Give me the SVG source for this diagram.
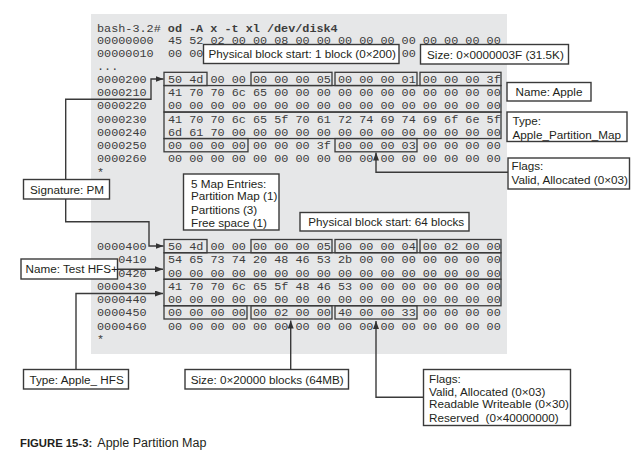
<svg xmlns="http://www.w3.org/2000/svg" width="641" height="465" viewBox="0 0 641 465">
<style>
.m{font-family:"Liberation Mono","DejaVu Sans Mono",monospace;font-size:11.8px;fill:#3d3d3d}
.b{font-weight:bold}
.hx{fill:none;stroke:#3a3a3a;stroke-width:1.3}
.lb{fill:#fff;stroke:#3a3a3a;stroke-width:1.4}
.t{font-family:"Liberation Sans",Arial,sans-serif;font-size:11.7px;fill:#231f20}
.c{fill:none;stroke:#3a3a3a;stroke-width:1.4}
</style>
<defs>
<marker id="ah" viewBox="0 0 8 6" refX="8" refY="3" markerWidth="8" markerHeight="6" markerUnits="userSpaceOnUse" orient="auto"><path d="M0,0 L8,3 L0,6 z" fill="#333"/></marker>
</defs>
<rect x="91" y="14" width="416" height="340" fill="#e6e7e8"/>
<g id="dump">
<text class="m" x="97" y="31.5">bash-3.2# <tspan class="b">od -A x -t xl /dev/disk4</tspan></text>
<text class="m" x="97" y="44">00000000</text><text class="m" x="168" y="44">45 52 02 00 00 08 00 00 00 00 00 00 00 00 00 00</text>
<text class="m" x="97" y="57">00000010</text><text class="m" x="168" y="57">00 00</text><text class="m" x="401.75" y="57">00</text>
<text class="m" x="97" y="69.6">...</text>
<text class="m" x="97" y="82.8">0000200</text><text class="m" x="168" y="82.8">50 4d 00 00 00 00 00 05 00 00 00 01 00 00 00 3f</text>
<text class="m" x="97" y="96.05">0000210</text><text class="m" x="168" y="96.05">41 70 70 6c 65 00 00 00 00 00 00 00 00 00 00 00</text>
<text class="m" x="97" y="109.3">0000220</text><text class="m" x="168" y="109.3">00 00 00 00 00 00 00 00 00 00 00 00 00 00 00 00</text>
<text class="m" x="97" y="122.55">0000230</text><text class="m" x="168" y="122.55">41 70 70 6c 65 5f 70 61 72 74 69 74 69 6f 6e 5f</text>
<text class="m" x="97" y="135.8">0000240</text><text class="m" x="168" y="135.8">6d 61 70 00 00 00 00 00 00 00 00 00 00 00 00 00</text>
<text class="m" x="97" y="149.05">0000250</text><text class="m" x="168" y="149.05">00 00 00 00 00 00 00 3f 00 00 00 03 00 00 00 00</text>
<text class="m" x="97" y="162.3">0000260</text><text class="m" x="168" y="162.3">00 00 00 00 00 00 00 00 00 00 00 00 00 00 00 00</text>
<text class="m" x="97" y="175.5">*</text>
<text class="m" x="97" y="250">0000400</text><text class="m" x="168" y="250">50 4d 00 00 00 00 00 05 00 00 00 04 00 02 00 00</text>
<text class="m" x="118.24" y="263.25">0410</text><text class="m" x="168" y="263.25">54 65 73 74 20 48 46 53 2b 00 00 00 00 00 00 00</text>
<text class="m" x="118.24" y="276.5">0420</text><text class="m" x="168" y="276.5">00 00 00 00 00 00 00 00 00 00 00 00 00 00 00 00</text>
<text class="m" x="97" y="289.75">0000430</text><text class="m" x="168" y="289.75">41 70 70 6c 65 5f 48 46 53 00 00 00 00 00 00 00</text>
<text class="m" x="97" y="303">0000440</text><text class="m" x="168" y="303">00 00 00 00 00 00 00 00 00 00 00 00 00 00 00 00</text>
<text class="m" x="97" y="316.25">0000450</text><text class="m" x="168" y="316.25">00 00 00 00 00 02 00 00 40 00 00 33 00 00 00 00</text>
<text class="m" x="97" y="329.5">0000460</text><text class="m" x="168" y="329.5">00 00 00 00 00 00 00 00 00 00 00 00 00 00 00 00</text>
<text class="m" x="97" y="342.75">*</text>
</g>
<g id="fields">
<rect class="hx" x="164" y="72.3" width="43" height="13.25"/>
<rect class="hx" x="251" y="72.3" width="81" height="13.25"/>
<rect class="hx" x="335" y="72.3" width="82" height="13.25"/>
<rect class="hx" x="420" y="72.3" width="81" height="13.25"/>
<rect class="hx" x="164" y="85.55" width="337" height="26.5"/>
<rect class="hx" x="164" y="112.05" width="337" height="26.5"/>
<rect class="hx" x="164" y="138.55" width="84" height="13.25"/>
<rect class="hx" x="335" y="138.55" width="82" height="13.25"/>
<rect class="hx" x="164" y="239.5" width="43" height="13.25"/>
<rect class="hx" x="251" y="239.5" width="81" height="13.25"/>
<rect class="hx" x="335" y="239.5" width="82" height="13.25"/>
<rect class="hx" x="420" y="239.5" width="81" height="13.25"/>
<rect class="hx" x="164" y="252.75" width="337" height="26.5"/>
<rect class="hx" x="164" y="279.25" width="337" height="26.5"/>
<rect class="hx" x="164" y="305.75" width="83" height="13.25"/>
<rect class="hx" x="251" y="305.75" width="81" height="13.25"/>
<rect class="hx" x="335" y="305.75" width="82" height="13.25"/>
</g>
<g id="connectors">
<path class="c" d="M65.7,179.5 V99.3 H151 V79 H163.5" marker-end="url(#ah)"/>
<path class="c" d="M65.7,199 V221.7 H149 V246 H163.5" marker-end="url(#ah)"/>
<path class="c" d="M508,172.3 H376 V152.5" marker-end="url(#ah)"/>
<path class="c" d="M117.5,269.3 H163" marker-end="url(#ah)"/>
<path class="c" d="M76,369.5 V293.5 H163" marker-end="url(#ah)"/>
<path class="c" d="M290.7,369.5 V320.5" marker-end="url(#ah)"/>
<path class="c" d="M423.5,397.3 H376 V321" marker-end="url(#ah)"/>
</g>
<g id="n-pbs1"><rect class="lb" x="203.5" y="44.5" width="195.5" height="19"/><text class="t" x="208.5" y="58.3">Physical block start: 1 block (0×200)</text></g>
<g id="n-size1"><rect class="lb" x="420.5" y="44.5" width="148" height="19.5"/><text class="t" x="427" y="58.5">Size: 0×0000003F (31.5K)</text></g>
<g id="n-name1"><rect class="lb" x="507" y="82.5" width="84" height="18.5"/><text class="t" x="515.5" y="96">Name: Apple</text></g>
<g id="n-type1"><rect class="lb" x="507" y="112" width="120" height="29.5"/><text class="t" x="512.5" y="125.2">Type:</text><text class="t" x="512.5" y="138.5">Apple_Partition_Map</text></g>
<g id="n-flags1"><rect class="lb" x="508" y="158" width="121.5" height="31"/><text class="t" x="511.5" y="170">Flags:</text><text class="t" x="511.5" y="184.2">Valid, Allocated (0×03)</text></g>
<g id="n-sig"><rect class="lb" x="23.5" y="179.5" width="86" height="19.5"/><text class="t" x="30" y="193.5">Signature: PM</text></g>
<g id="n-map"><rect class="lb" x="183.5" y="174" width="95.5" height="56"/><text class="t" x="191" y="187.5">5 Map Entries:</text><text class="t" x="191" y="200.2">Partition Map (1)</text><text class="t" x="191" y="213.5">Partitions (3)</text><text class="t" x="191" y="226.5">Free space (1)</text></g>
<g id="n-pbs64"><rect class="lb" x="300" y="212.5" width="169" height="18.5"/><text class="t" x="308.3" y="226.3">Physical block start: 64 blocks</text></g>
<g id="n-name2"><rect class="lb" x="21" y="259" width="96.5" height="20"/><text class="t" x="25.5" y="273.3">Name: Test HFS+</text></g>
<g id="n-type2"><rect class="lb" x="23.5" y="369.5" width="105" height="19.5"/><text class="t" x="29.5" y="383.5">Type: Apple_ HFS</text></g>
<g id="n-size2"><rect class="lb" x="185" y="369.5" width="163.5" height="19.5"/><text class="t" x="190.7" y="383.5">Size: 0×20000 blocks (64MB)</text></g>
<g id="n-flags2"><rect class="lb" x="423.5" y="369.5" width="147" height="56"/><text class="t" x="429" y="382.5">Flags:</text><text class="t" x="429" y="395.9">Valid, Allocated (0×03)</text><text class="t" x="429" y="408.2">Readable Writeable (0×30)</text><text class="t" x="429" y="421.5" xml:space="preserve">Reserved  (0×40000000)</text></g>
<g id="caption">
<text x="20" y="446.5" font-family="'Liberation Sans',Arial,sans-serif" font-size="11.3" font-weight="bold" fill="#231f20">FIGURE 15-3:</text>
<text x="97.3" y="446.5" font-family="'Liberation Sans',Arial,sans-serif" font-size="12.5" fill="#231f20">Apple Partition Map</text>
</g>
</svg>
